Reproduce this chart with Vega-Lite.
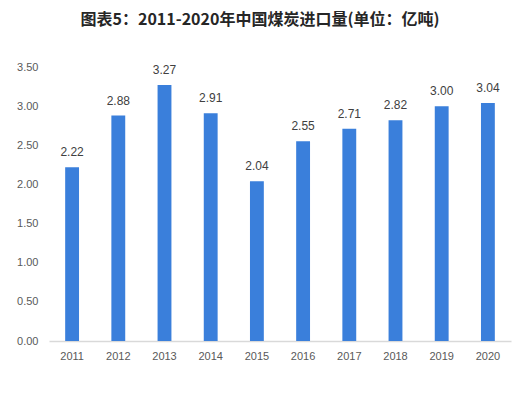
{
  "$schema": "https://vega.github.io/schema/vega-lite/v6.json",
  "autosize": "none",
  "width": 462,
  "height": 274,
  "padding": {"left": 49, "top": 67, "right": 9, "bottom": 55},
  "background": "white",
  "title": {
    "text": "图表5：2011-2020年中国煤炭进口量(单位：亿吨)",
    "font": "Noto Sans CJK SC",
    "fontSize": 16,
    "fontWeight": "bold",
    "color": "#262626",
    "anchor": "middle",
    "frame": "group",
    "dx": -20,
    "offset": 33
  },
  "config": {"view": {"stroke": null}},
  "data": {
    "values": [
      {"year": "2011", "value": 2.22},
      {"year": "2012", "value": 2.88},
      {"year": "2013", "value": 3.27},
      {"year": "2014", "value": 2.91},
      {"year": "2015", "value": 2.04},
      {"year": "2016", "value": 2.55},
      {"year": "2017", "value": 2.71},
      {"year": "2018", "value": 2.82},
      {"year": "2019", "value": 3.00},
      {"year": "2020", "value": 3.04}
    ]
  },
  "encoding": {
    "x": {
      "field": "year",
      "type": "ordinal",
      "scale": {"paddingInner": 0.7, "paddingOuter": 0.35},
      "axis": {
        "title": null,
        "labelAngle": 0,
        "ticks": false,
        "domainColor": "#d9d9d9",
        "domainWidth": 1.5,
        "labelColor": "#595959",
        "labelFont": "Liberation Sans",
        "labelFontSize": 11,
        "labelPadding": 9
      }
    },
    "y": {
      "field": "value",
      "type": "quantitative",
      "scale": {"domain": [0, 3.5], "nice": false},
      "axis": {
        "title": null,
        "values": [0, 0.5, 1, 1.5, 2, 2.5, 3, 3.5],
        "format": ".2f",
        "grid": false,
        "domain": false,
        "ticks": false,
        "labelColor": "#595959",
        "labelFont": "Liberation Sans",
        "labelFontSize": 11,
        "labelPadding": 11
      }
    }
  },
  "layer": [
    {"mark": {"type": "bar", "color": "#3a7fdb"}},
    {
      "mark": {"type": "text", "baseline": "bottom", "dy": -8, "fontSize": 12, "font": "Liberation Sans", "color": "#404040"},
      "encoding": {"text": {"field": "value", "type": "quantitative", "format": ".2f"}}
    }
  ]
}
